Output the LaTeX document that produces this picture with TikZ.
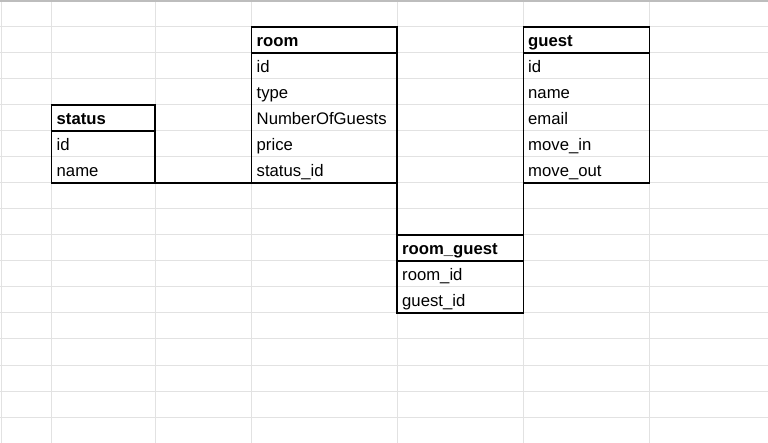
\documentclass[tikz,border=0pt]{standalone}
\usepackage{fontspec}
\setmainfont{Liberation Sans}
\begin{document}
\begin{tikzpicture}[x=1pt,y=-1pt,
  gridline/.style={draw=gridgray,line width=1pt},
  tbl/.style={draw=black,line width=1.2pt,rectangle,inner sep=0pt,outer sep=0pt,anchor=north west},
  conn/.style={draw=black,line width=1.2pt},
  fld/.style={anchor=base west,inner sep=0pt,font=\fontsize{16.7}{18}\selectfont},
  hdr/.style={fld,font=\fontsize{16.7}{18}\selectfont\bfseries}]
\definecolor{gridgray}{HTML}{E2E2E2}
\definecolor{topgray}{HTML}{BDBDBD}
\useasboundingbox (0,0) rectangle (768,443);
\fill[white] (0,0) rectangle (768,443);
% spreadsheet grid
\foreach \gx in {1,51.5,155,251.5,397,523.5,649.5}
  \draw[gridline] (\gx,0) -- (\gx,443);
\foreach \k in {0,...,15}
  \draw[gridline] (0,27+26*\k) -- (768,27+26*\k);
\draw[draw=topgray,line width=2pt] (0,0.8) -- (768,0.8);
% tables
\node[tbl,minimum width=103.5pt,minimum height=78pt] (status) at (51.5,105) {};
\draw[conn] (51.5,131) -- (155,131);
\node[hdr] (statush) at (56.5,125) {status};
\node[fld] (status1) at (56.5,151) {id};
\node[fld] (status2) at (56.5,177) {name};

\node[tbl,minimum width=145.5pt,minimum height=156pt] (room) at (251.5,27) {};
\draw[conn] (251.5,53) -- (397,53);
\node[hdr] (roomh) at (256.5,47) {room};
\node[fld] (room1) at (256.5,73) {id};
\node[fld] (room2) at (256.5,99) {type};
\node[fld] (room3) at (256.5,125) {NumberOfGuests};
\node[fld] (room4) at (256.5,151) {price};
\node[fld] (room5) at (256.5,177) {status\_id};

\node[tbl,minimum width=126pt,minimum height=156pt] (guest) at (523.5,27) {};
\draw[conn] (523.5,53) -- (649.5,53);
\node[hdr] (guesth) at (528,47) {guest};
\node[fld] (guest1) at (528,73) {id};
\node[fld] (guest2) at (528,99) {name};
\node[fld] (guest3) at (528,125) {email};
\node[fld] (guest4) at (528,151) {move\_in};
\node[fld] (guest5) at (528,177) {move\_out};

\node[tbl,minimum width=126.5pt,minimum height=78pt] (rg) at (397,235) {};
\draw[conn] (397,261) -- (523.5,261);
\node[hdr] (rgh) at (402,255) {room\_guest};
\node[fld] (rg1) at (402,281) {room\_id};
\node[fld] (rg2) at (402,307) {guest\_id};
% connectors
\draw[conn] (status.south east) -- (room.south west);
\draw[conn] (room.south east) -- (rg.north west);
\draw[conn] (guest.south west) -- (rg.north east);
\end{tikzpicture}
\end{document}
